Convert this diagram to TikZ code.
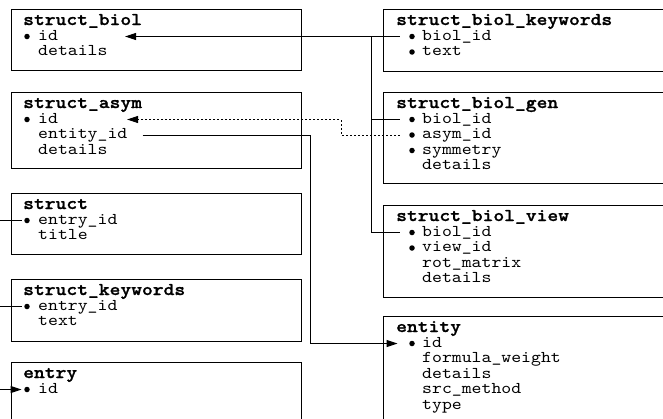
\documentclass[tikz,border=0pt]{standalone}
\usepackage{fontspec}
\newfontfamily\codefont[FakeStretch=1.143]{lmmono10-regular.otf}
\newfontfamily\codeboldfont[FakeStretch=1.143,FakeBold=1.2]{lmmonolt10-bold.otf}
\usetikzlibrary{arrows.meta}
\newcommand\hdrfont{\codeboldfont\fontsize{18}{18}\selectfont}
\newcommand\fldfont{\codefont\fontsize{16.5}{16.5}\selectfont}
\begin{document}
\begin{tikzpicture}[x=1pt,y=-1pt,
  tbl/.style={draw, line width=1.4pt, minimum width=290pt, anchor=north west, inner sep=0pt},
  hdr/.style={anchor=base west, inner sep=0pt, font=\hdrfont},
  fld/.style={anchor=base west, inner sep=0pt, text height=11.5pt, text depth=4.5pt, font=\fldfont},
  keydot/.style={circle, fill, inner sep=0pt, minimum size=5.5pt},
  link/.style={line width=1pt},
  ref/.style={link, -{Triangle[length=11pt,width=7pt]}},
  optref/.style={ref, dash pattern=on 2pt off 2pt}]
\useasboundingbox (0,0) rectangle (663,418);
\fill[white] (0,0) rectangle (663,418);
\clip (0,0) rectangle (663,418);

% ---------- left column ----------
\node[tbl, minimum height=61pt] (sb) at (11,9) {};
\node[hdr] at (23,25) {struct\_biol};
\node[keydot] (sb-k1) at (27,36.5) {};
\node[fld] (sb-id) at (38,40) {id};
\node[fld] at (38,55.5) {details};

\node[tbl, minimum height=76pt] (sa) at (11,92) {};
\node[hdr] at (23,108) {struct\_asym};
\node[keydot] (sa-k1) at (27,119.5) {};
\node[fld] (sa-id) at (38,123) {id};
\node[fld] (sa-entity) at (38,138.5) {entity\_id};
\node[fld] at (38,154) {details};

\node[tbl, minimum height=61pt] (st) at (11,193) {};
\node[hdr] at (23,209) {struct};
\node[keydot] (st-k1) at (27,220.5) {};
\node[fld] at (38,224) {entry\_id};
\node[fld] at (38,239.5) {title};

\node[tbl, minimum height=62pt] (sk) at (11,279) {};
\node[hdr] at (23,295) {struct\_keywords};
\node[keydot] (sk-k1) at (27,306.5) {};
\node[fld] at (38,310) {entry\_id};
\node[fld] at (38,325.5) {text};

\node[tbl, minimum height=80pt] (en) at (11,362) {};
\node[hdr] at (23,378) {entry};
\node[keydot] (en-k1) at (27,389.5) {};
\node[fld] at (38,393) {id};

% ---------- right column ----------
\node[tbl, minimum height=62pt] (kw) at (383,9) {};
\node[hdr] at (396,25) {struct\_biol\_keywords};
\node[keydot] (kw-k1) at (412,36.5) {};
\node[keydot] (kw-k2) at (412,52) {};
\node[fld] at (422,40) {biol\_id};
\node[fld] at (422,55.5) {text};

\node[tbl, minimum height=91pt] (gen) at (383,92) {};
\node[hdr] at (396,108) {struct\_biol\_gen};
\node[keydot] (gen-k1) at (412,119.5) {};
\node[keydot] (gen-k2) at (412,135) {};
\node[keydot] (gen-k3) at (412,150.5) {};
\node[fld] at (422,123) {biol\_id};
\node[fld] at (422,138.5) {asym\_id};
\node[fld] at (422,154) {symmetry};
\node[fld] at (422,169.5) {details};

\node[tbl, minimum height=92pt] (view) at (383,205) {};
\node[hdr] at (396,221) {struct\_biol\_view};
\node[keydot] (view-k1) at (412,232.5) {};
\node[keydot] (view-k2) at (412,248) {};
\node[fld] at (422,236) {biol\_id};
\node[fld] at (422,251.5) {view\_id};
\node[fld] at (422,267) {rot\_matrix};
\node[fld] at (422,282.5) {details};

\node[tbl, minimum height=115pt] (ent) at (383,316) {};
\node[hdr] at (396,332) {entity};
\node[keydot] (ent-k1) at (412,343.5) {};
\node[fld] at (422,347) {id};
\node[fld] at (422,362.5) {formula\_weight};
\node[fld] at (422,378) {details};
\node[fld] at (422,393.5) {src\_method};
\node[fld] at (422,409) {type};

% ---------- connectors ----------
\coordinate (sb-tip) at (125,36.5);
\coordinate (sa-tip) at (127,119.5);
\coordinate (bus) at (371,36.5);
\coordinate (asym-bend) at (341,119.5);
\coordinate (ent-bend) at (310,343.5);
\coordinate (st-from) at (0,0 |- st-k1);
\coordinate (sk-from) at (0,0 |- sk-k1);
\coordinate (en-from) at (0,0 |- en-k1);

% biol_id references to struct_biol.id
\draw[ref] ([xshift=-9.5pt]kw-k1.west) -- (sb-tip);
\draw[link] (bus) |- ([xshift=-9.5pt]view-k1.west);
\draw[link] (bus |- gen-k1) -- ([xshift=-9.5pt]gen-k1.west);

% asym_id reference to struct_asym.id
\draw[optref] ([xshift=-9.5pt]gen-k2.west) -| (asym-bend) -- (sa-tip);

% entity_id reference to entity.id
\draw[ref] ([xshift=15pt]sa-entity.east) -| (ent-bend) -- ([xshift=-11.5pt]ent-k1.west);

% entry references coming in from the left
\draw[link] (st-from) -- ([xshift=-2pt]st-k1.west);
\draw[link] (sk-from) -- ([xshift=-2pt]sk-k1.west);
\draw[ref] (en-from) -- ([xshift=-2.5pt]en-k1.west);
\end{tikzpicture}
\end{document}
